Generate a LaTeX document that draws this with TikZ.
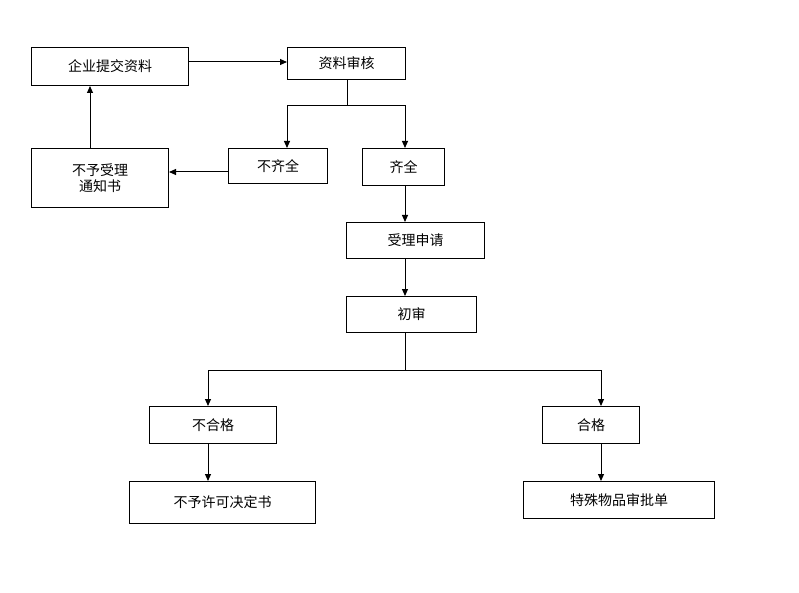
\documentclass[tikz,border=0pt]{standalone}
\usepackage{fontspec}
\setmainfont{Noto Sans CJK SC}
\usetikzlibrary{arrows.meta}
\begin{document}
\begin{tikzpicture}[x=1pt,y=-1pt,
  box/.style={draw,line width=1pt,inner sep=0pt,font=\fontsize{14}{16}\selectfont},
  arr/.style={line width=1pt,-{Triangle[length=7pt,width=6pt]}},
  ln/.style={line width=1pt}]
\useasboundingbox (0,0) rectangle (799,593);
\newcommand\bx[6]{\node[box,minimum width=#4-#2,minimum height=#5-#3,anchor=north west] (#1) at (#2,#3) {#6};}
\bx{a}{31}{47}{188}{85}{企业提交资料}
\bx{b}{287}{47}{405}{79}{资料审核}
\bx{c}{31}{148}{168}{207}{\shortstack{不予受理\\通知书}}
\bx{d}{228}{148}{327}{183}{不齐全}
\bx{e}{362}{148}{444}{185}{齐全}
\bx{f}{346}{222}{484}{258}{受理申请}
\bx{g}{346}{296}{476}{332}{初审}
\bx{h}{149}{406}{276}{443}{不合格}
\bx{i}{542}{406}{639}{443}{合格}
\bx{j}{129}{481}{315}{523}{不予许可决定书}
\bx{k}{523}{481}{714}{518}{特殊物品审批单}
\coordinate (s1) at (347,106);
\coordinate (s2) at (405,370);
\draw[arr] (a.east|-0,62) -- (b.west|-0,62);
\draw[ln] (b.south-|s1) -- (s1);
\draw[arr] (s1) -| (d.north-|287,0);
\draw[arr] (s1) -| (e.north-|405,0);
\draw[arr] (d.west|-0,172) -- (c.east|-0,172);
\draw[arr] (c.north-|90,0) -- (a.south-|90,0);
\draw[arr] (e.south-|405,0) -- (f.north-|405,0);
\draw[arr] (f.south-|405,0) -- (g.north-|405,0);
\draw[ln] (g.south-|s2) -- (s2);
\draw[arr] (s2) -| (h.north-|208,0);
\draw[arr] (s2) -| (i.north-|601,0);
\draw[arr] (h.south-|208,0) -- (j.north-|208,0);
\draw[arr] (i.south-|601,0) -- (k.north-|601,0);
\end{tikzpicture}
\end{document}
